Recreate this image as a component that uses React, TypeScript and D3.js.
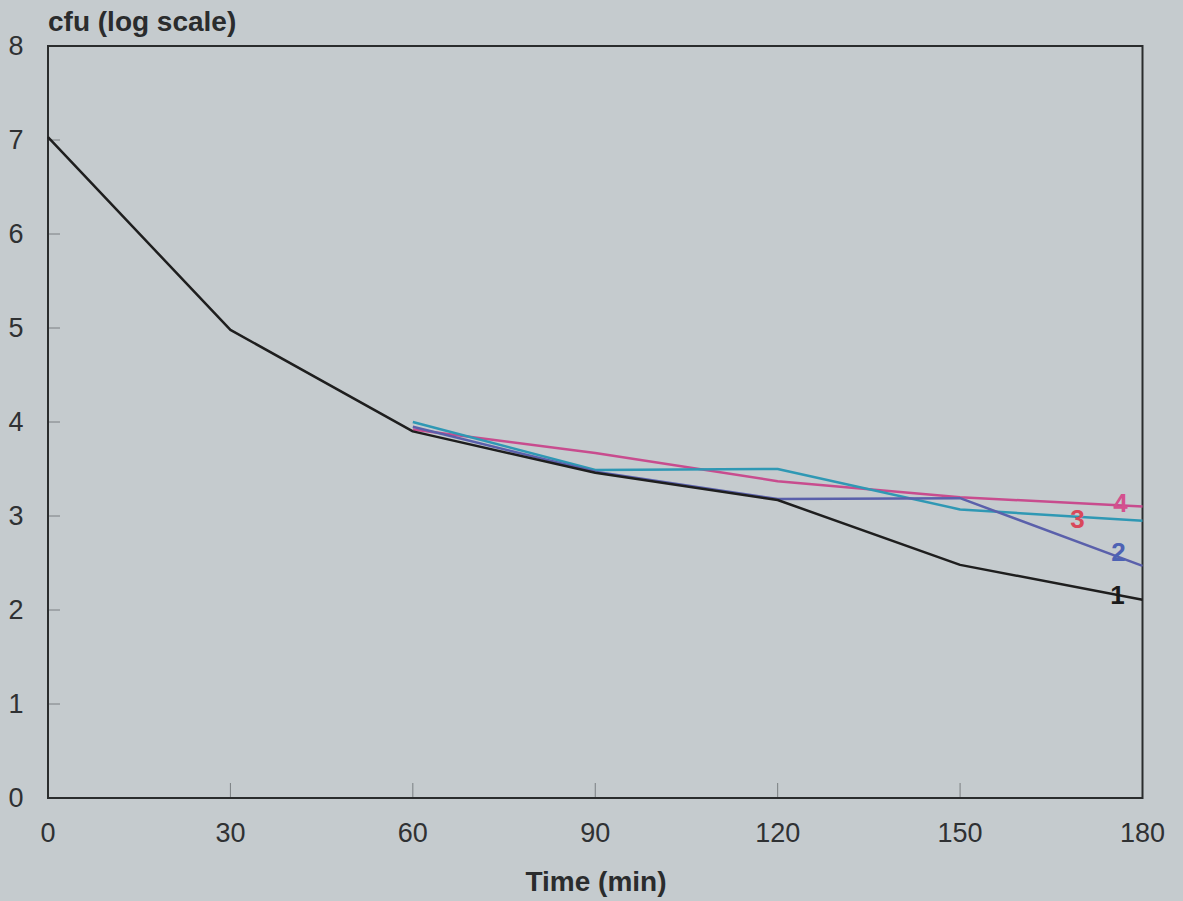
import React from "react";
import * as d3 from "d3";

// Time points (minutes) and log cfu counts for each curve
const times = [0, 30, 60, 90, 120, 150, 180];
const curve1 = [7.03, 4.98, 3.9, 3.46, 3.17, 2.48, 2.11];
const curve2Times = [60, 90, 120, 150, 180];
const curve2 = [3.95, 3.47, 3.18, 3.19, 2.47];
const curve3 = [4.0, 3.49, 3.5, 3.07, 2.95];
const curve4 = [3.92, 3.67, 3.37, 3.2, 3.1];
const xTicks = [0, 30, 60, 90, 120, 150, 180];
const yTicks = [0, 1, 2, 3, 4, 5, 6, 7, 8];
const curveNames = ["1", "2", "3", "4"];

const W = 1183;
const H = 901;
const M = { left: 48, right: 1142.5, top: 46, bottom: 798 };
const FONT = "'Liberation Sans', Arial, sans-serif";

export default function App() {
  const x = d3.scaleLinear().domain([0, 180]).range([M.left, M.right]);
  const y = d3.scaleLinear().domain([0, 8]).range([M.bottom, M.top]);
  const line = d3
    .line<[number, number]>()
    .x((d) => x(d[0]))
    .y((d) => y(d[1]));

  const series = [
    { name: curveNames[3], t: curve2Times, v: curve4, color: "#c84c8e", labelColor: "#d4508e", dx: -22, dy: -4 },
    { name: curveNames[2], t: curve2Times, v: curve3, color: "#2f98b4", labelColor: "#d9485a", dx: -65, dy: -2 },
    { name: curveNames[1], t: curve2Times, v: curve2, color: "#5a60ab", labelColor: "#4d62b4", dx: -24, dy: -14 },
    { name: curveNames[0], t: times, v: curve1, color: "#1e1e1e", labelColor: "#1a1a1a", dx: -25, dy: -5 },
  ];

  return (
    <svg
      width={W}
      height={H}
      style={{ position: "absolute", left: 0, top: 0, background: "#c5cbce" }}
    >
      <rect x={0} y={0} width={W} height={H} fill="#c5cbce" />
      {/* inward tick marks */}
      {yTicks.slice(1, -1).map((t) => (
        <line key={"yt" + t} x1={M.left} x2={M.left + 12} y1={y(t)} y2={y(t)} stroke="#7a7f82" strokeWidth={1} />
      ))}
      {xTicks.slice(1, -1).map((t) => (
        <line key={"xt" + t} x1={x(t)} x2={x(t)} y1={M.bottom} y2={M.bottom - 15} stroke="#7a7f82" strokeWidth={1} />
      ))}
      {/* plot frame */}
      <rect
        x={M.left}
        y={M.top}
        width={M.right - M.left}
        height={M.bottom - M.top}
        fill="none"
        stroke="#2a2c2d"
        strokeWidth={2}
      />
      {series.map((s) => (
        <path
          key={"p" + s.name}
          d={line(s.t.map((t, i) => [t, s.v[i]] as [number, number])) || ""}
          fill="none"
          stroke={s.color}
          strokeWidth={2.5}
          strokeLinejoin="round"
        />
      ))}
      {series.map((s) => {
        const last = s.v[s.v.length - 1];
        return (
          <text
            key={"l" + s.name}
            x={x(180) + s.dx}
            y={y(last) + s.dy}
            fill={s.labelColor}
            fontFamily={FONT}
            fontWeight="bold"
            fontSize={26}
            textAnchor="middle"
            dominantBaseline="central"
          >
            {s.name}
          </text>
        );
      })}
      {yTicks.map((t) => (
        <text
          key={"yl" + t}
          x={16}
          y={y(t)}
          fill="#2f3133"
          fontFamily={FONT}
          fontSize={27}
          textAnchor="middle"
          dominantBaseline="central"
        >
          {t}
        </text>
      ))}
      {xTicks.map((t) => (
        <text
          key={"xl" + t}
          x={x(t)}
          y={842}
          fill="#2f3133"
          fontFamily={FONT}
          fontSize={27}
          textAnchor="middle"
        >
          {t}
        </text>
      ))}
      <text x={48} y={31} fill="#2a2c2d" fontFamily={FONT} fontWeight="bold" fontSize={28}>
        cfu (log scale)
      </text>
      <text
        x={596}
        y={891}
        fill="#2a2c2d"
        fontFamily={FONT}
        fontWeight="bold"
        fontSize={28}
        textAnchor="middle"
      >
        Time (min)
      </text>
    </svg>
  );
}
